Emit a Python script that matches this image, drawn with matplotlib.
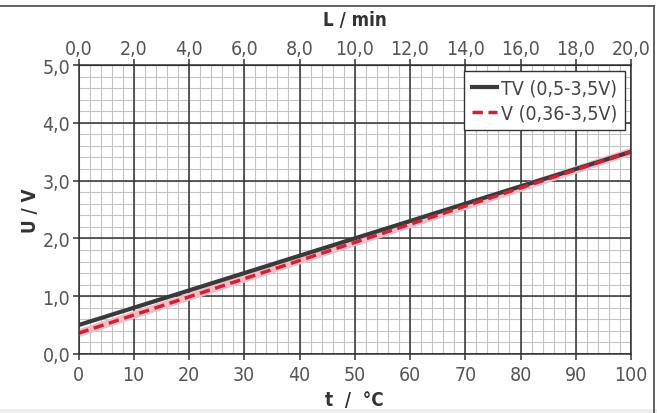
import matplotlib
matplotlib.use("Agg")
import matplotlib.pyplot as plt
from matplotlib.patches import Rectangle
from matplotlib.lines import Line2D
from matplotlib.ticker import MultipleLocator, FuncFormatter

plt.rcParams['font.family'] = ['DejaVu Sans']
plt.rcParams['font.stretch'] = 'condensed'

temp = [0, 100]
tv_volts = [0.5, 3.5]
v_volts = [0.36, 3.5]
series_labels = ["TV (0,5-3,5V)", "V (0,36-3,5V)"]
flow_ticks = [0, 2, 4, 6, 8, 10, 12, 14, 16, 18, 20]

W, H = 657, 414
fig = plt.figure(figsize=(6.57, 4.14), dpi=100)
# outer frame: top and right line, light band at bottom
fig.add_artist(Line2D([0, 654 / W], [1 - 7 / H, 1 - 7 / H], transform=fig.transFigure, color='#555555', linewidth=1.3))
fig.add_artist(Line2D([654 / W, 654 / W], [1 - 7 / H, 0], transform=fig.transFigure, color='#555555', linewidth=1.3))
fig.patches.append(Rectangle((0, 0), 1, 4 / H, transform=fig.transFigure, facecolor='#eeeeee', edgecolor='none'))

rect = [78.5 / W, 1 - 355 / H, (631 - 78.5) / W, (355 - 66) / H]
ax_bg = fig.add_axes(rect, zorder=0)
ax_bg.set_xlim(0, 100)
ax_bg.set_ylim(0, 5)
ax_bg.xaxis.set_minor_locator(MultipleLocator(2))
ax_bg.yaxis.set_minor_locator(MultipleLocator(0.2))
ax_bg.grid(which='minor', color='#c4c4c4', linewidth=0.8)
ax_bg.set_xticks([])
ax_bg.set_yticks([])
ax_bg.tick_params(which='minor', length=0)
for s in ax_bg.spines.values():
    s.set_visible(False)

ax = fig.add_axes(rect, zorder=1)
ax.patch.set_visible(False)
tick_col = '#555555'
ax.set_xlim(0, 100)
ax.set_ylim(0, 5)
ax.xaxis.set_major_locator(MultipleLocator(10))
ax.yaxis.set_major_locator(MultipleLocator(1))
ax.yaxis.set_major_formatter(FuncFormatter(lambda v, p: f"{v:.1f}".replace('.', ',')))
ax.grid(which='major', color='#333333', linewidth=1.1)
for s in ax.spines.values():
    s.set_color('#333333')
    s.set_linewidth(1.1)
ax.tick_params(which='major', length=4, width=1.1, color='#333333', labelsize=14, labelcolor=tick_col, pad=2)
ax.tick_params(axis='x', pad=4)

ax.plot(temp, v_volts, color='#f6bcc4', linewidth=5.5, solid_capstyle='butt')
ax.plot(temp, tv_volts, color='#3a3a3a', linewidth=3, label=series_labels[0])
ax.plot(temp, v_volts, color='#c8243a', linewidth=2.5, linestyle=(0, (3, 1.6)), label=series_labels[1])

ax.set_xlabel('t  /  °C', fontsize=13.5, fontweight='bold', color='#333333', labelpad=4)
ax.set_ylabel('U / V', fontsize=13.5, fontweight='bold', color='#333333', labelpad=2)

sec = ax.secondary_xaxis('top', functions=(lambda x: x / 5.0, lambda l: l * 5.0))
sec.set_xticks(flow_ticks)
sec.xaxis.set_major_formatter(FuncFormatter(lambda v, p: f"{v:.1f}".replace('.', ',')))
sec.tick_params(length=4, width=1.1, color='#333333', labelsize=14, labelcolor=tick_col, pad=1)
sec.set_xlabel('L / min', fontsize=13.5, fontweight='bold', color='#333333', labelpad=10)

leg = ax.legend(loc='upper right', fontsize=14, frameon=True, fancybox=False,
                edgecolor='#333333', framealpha=1, handlelength=1.3, handletextpad=0.2,
                borderpad=0.4, labelspacing=0.3, borderaxespad=0.3)
leg.get_frame().set_linewidth(1.0)
for t in leg.get_texts():
    t.set_color('#444444')

fig.savefig('out.png', dpi=100)
